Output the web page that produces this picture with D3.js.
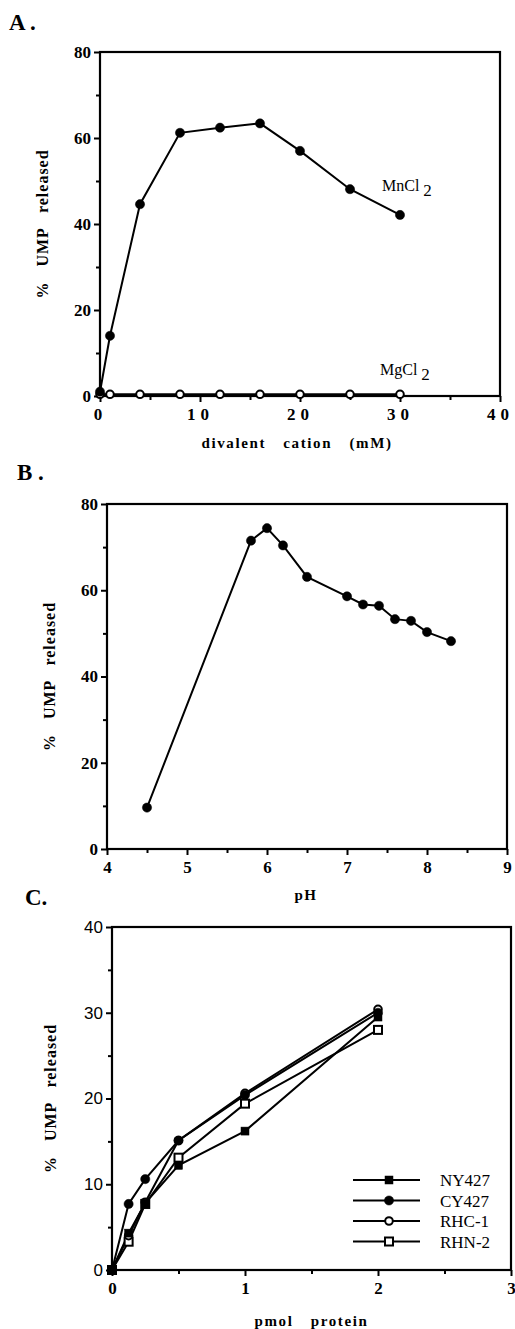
<!DOCTYPE html>
<html lang="en">
<head>
<meta charset="UTF-8">
<title>UMP release</title>
<script src="https://cdnjs.cloudflare.com/ajax/libs/d3/7.8.5/d3.min.js"></script>
<style>
  body { margin: 0; background: #fff; }
  svg { display: block; }
  text { fill: #000; }
</style>
</head>
<body>
<svg id="fig" width="515" height="1329"></svg>
<script>
// ---- panel A: divalent cation (mM)
const cationMn = [0, 1, 4, 8, 12, 16, 20, 25, 30];
const umpMn = [1.0, 14.0, 44.6, 61.2, 62.4, 63.4, 57.0, 48.1, 42.1];
const cationMg = [0, 1, 4, 8, 12, 16, 20, 25, 30];
const umpMg = [0.4, 0.4, 0.4, 0.4, 0.4, 0.4, 0.4, 0.4, 0.4];
const ticksA_x = [0, 10, 20, 30, 40];
const ticksA_y = [0, 20, 40, 60, 80];

// ---- panel B: pH
const pH = [4.5, 5.8, 6.0, 6.2, 6.5, 7.0, 7.2, 7.4, 7.6, 7.8, 8.0, 8.3];
const umpPH = [9.6, 71.5, 74.4, 70.4, 63.1, 58.6, 56.7, 56.4, 53.3, 52.9, 50.3, 48.2];
const ticksB_x = [4, 5, 6, 7, 8, 9];
const ticksB_y = [0, 20, 40, 60, 80];

// ---- panel C: pmol protein
const pmol = [0, 0.125, 0.25, 0.5, 1, 2];
const strains = ["NY427", "CY427", "RHC-1", "RHN-2"];
const umpNY427 = [0, 4.3, 7.8, 12.2, 16.2, 29.5];
const umpCY427 = [0, 7.7, 10.6, 15.1, 20.4, 30.0];
const umpRHC1 = [0, 4.0, 7.9, 15.1, 20.6, 30.4];
const umpRHN2 = [0, 3.3, 7.7, 13.1, 19.4, 28.0];
const ticksC_x = [0, 1, 2, 3];
const ticksC_y = [0, 10, 20, 30, 40];

const svg = d3.select("#fig");
const serif = "'Liberation Serif', 'Times New Roman', serif";

function panel(o) {
    const x = d3.scaleLinear().domain(o.xDomain).range([o.left, o.right]);
    const y = d3.scaleLinear().domain(o.yDomain).range([o.bottom, o.top]);
    const g = svg.append("g");

    // frame
    g.append("rect")
        .attr("x", o.left).attr("y", o.top)
        .attr("width", o.right - o.left).attr("height", o.bottom - o.top)
        .attr("fill", "none").attr("stroke", "#000").attr("stroke-width", 2.2);

    // minor ticks
    const xa = g.append("g").attr("transform", `translate(0,${o.bottom})`)
        .call(d3.axisBottom(x).tickValues(o.xMinor).tickSize(4).tickFormat(""));
    const ya = g.append("g").attr("transform", `translate(${o.left},0)`)
        .call(d3.axisLeft(y).tickValues(o.yMinor).tickSize(4).tickFormat(""));

    // major ticks
    const xb = g.append("g").attr("transform", `translate(0,${o.bottom})`)
        .call(d3.axisBottom(x).tickValues(o.xTicks).tickSize(6).tickPadding(6).tickFormat(d3.format("d")));
    const yb = g.append("g").attr("transform", `translate(${o.left},0)`)
        .call(d3.axisLeft(y).tickValues(o.yTicks).tickSize(6).tickPadding(3).tickFormat(d3.format("d")));

    [xa, ya, xb, yb].forEach(a => {
        a.select(".domain").remove();
        a.selectAll("line").attr("stroke-width", 2);
    });
    xb.selectAll("text")
        .attr("font-family", serif).attr("font-weight", "bold")
        .attr("font-size", 17).style("letter-spacing", o.xLetter || "0px");
    yb.selectAll("text")
        .attr("font-family", o.yFont || serif).attr("font-weight", o.yWeight || "bold")
        .attr("font-size", 17);

    // titles
    svg.append("text")
        .attr("x", o.labelX).attr("y", o.labelY)
        .attr("font-family", serif).attr("font-weight", "bold").attr("font-size", 23)
        .text(o.label);
    svg.append("text")
        .attr("x", (o.left + o.right) / 2 + (o.xTitleDx || 0)).attr("y", o.xTitleY)
        .attr("text-anchor", "middle")
        .attr("font-family", serif).attr("font-weight", "bold").attr("font-size", 15)
        .style("letter-spacing", "1.6px").style("word-spacing", "12px")
        .text(o.xTitle);
    svg.append("text")
        .attr("transform", `translate(${o.yTitleX},${(o.top + o.bottom) / 2}) rotate(-90)`)
        .attr("text-anchor", "middle")
        .attr("font-family", serif).attr("font-weight", "bold").attr("font-size", 16)
        .style("letter-spacing", "1px").style("word-spacing", "10px")
        .text("% UMP released");

    return { x, y, g };
}

function drawLine(g, x, y, xs, ys) {
    g.append("path")
        .datum(xs.map((d, i) => [d, ys[i]]))
        .attr("fill", "none").attr("stroke", "#000").attr("stroke-width", 2)
        .attr("d", d3.line().x(d => x(d[0])).y(d => y(d[1])));
}

function drawMarkers(g, x, y, xs, ys, kind) {
    const pts = xs.map((d, i) => [d, ys[i]]);
    const filled = kind === "filledCircle" || kind === "filledSquare";
    if (kind.endsWith("Circle")) {
        g.selectAll(null).data(pts).enter().append("circle")
            .attr("cx", d => x(d[0])).attr("cy", d => y(d[1]))
            .attr("r", filled ? 4.6 : 3.8)
            .attr("fill", filled ? "#000" : "#fff")
            .attr("stroke", "#000").attr("stroke-width", filled ? 0.5 : 2);
    } else {
        g.selectAll(null).data(pts).enter().append("rect")
            .attr("x", d => x(d[0]) - 4).attr("y", d => y(d[1]) - 4)
            .attr("width", 8).attr("height", 8)
            .attr("fill", filled ? "#000" : "#fff")
            .attr("stroke", "#000").attr("stroke-width", filled ? 0.5 : 2);
    }
}

// ---------- A
const A = panel({
    left: 100, right: 500, top: 52, bottom: 396,
    xDomain: [0, 40], yDomain: [0, 80],
    xTicks: ticksA_x, yTicks: ticksA_y,
    xMinor: [5, 15, 25, 35], yMinor: [10, 30, 50, 70],
    xLetter: "5px",
    label: "A .", labelX: 9, labelY: 30,
    xTitle: "divalent cation (mM)", xTitleY: 448, xTitleDx: -3,
    yTitleX: 48
});
drawLine(A.g, A.x, A.y, cationMg, umpMg);
drawMarkers(A.g, A.x, A.y, cationMg, umpMg, "openCircle");
drawLine(A.g, A.x, A.y, cationMn, umpMn);
drawMarkers(A.g, A.x, A.y, cationMn, umpMn, "filledCircle");

function seriesLabel(x0, y0, name) {
    const t = svg.append("text").attr("x", x0).attr("y", y0)
        .attr("font-family", serif).attr("font-size", 16);
    t.append("tspan").text(name);
    t.append("tspan").attr("dx", 4).attr("dy", 5).attr("font-size", 17).text("2");
}
seriesLabel(382, 191, "MnCl");
seriesLabel(380, 375, "MgCl");

// ---------- B
const B = panel({
    left: 107, right: 507, top: 504, bottom: 849,
    xDomain: [4, 9], yDomain: [0, 80],
    xTicks: ticksB_x, yTicks: ticksB_y,
    xMinor: [4.5, 5.5, 6.5, 7.5, 8.5], yMinor: [10, 30, 50, 70],
    label: "B .", labelX: 17, labelY: 480,
    xTitle: "pH", xTitleY: 900, xTitleDx: -1,
    yTitleX: 55
});
drawLine(B.g, B.x, B.y, pH, umpPH);
drawMarkers(B.g, B.x, B.y, pH, umpPH, "filledCircle");

// ---------- C
const C = panel({
    left: 112, right: 511, top: 927, bottom: 1270,
    xDomain: [0, 3], yDomain: [0, 40],
    xTicks: ticksC_x, yTicks: ticksC_y,
    xMinor: [0.5, 1.5, 2.5], yMinor: [5, 15, 25, 35],
    yFont: "'Liberation Sans', Arial, sans-serif", yWeight: "normal",
    label: "C.", labelX: 25, labelY: 905,
    xTitle: "pmol protein", xTitleY: 1326, xTitleDx: 0,
    yTitleX: 56
});
const seriesC = [umpNY427, umpCY427, umpRHC1, umpRHN2];
const kindsC = ["filledSquare", "filledCircle", "openCircle", "openSquare"];
seriesC.forEach(s => drawLine(C.g, C.x, C.y, pmol, s));
[3, 2, 0, 1].forEach(i => drawMarkers(C.g, C.x, C.y, pmol, seriesC[i], kindsC[i]));

// legend
const legend = svg.append("g").attr("transform", "translate(353,1180)");
strains.forEach((name, i) => {
    const row = legend.append("g").attr("transform", `translate(0,${i * 20.5})`);
    row.append("line").attr("x1", 0).attr("x2", 67).attr("y1", 0).attr("y2", 0)
        .attr("stroke", "#000").attr("stroke-width", 2);
    const lx = d3.scaleLinear().domain([0, 1]).range([36, 36]);
    const ly = d3.scaleLinear().domain([0, 1]).range([0, 0]);
    drawMarkers(row, lx, ly, [0], [0], kindsC[i]);
    row.append("text").attr("x", 87).attr("y", 6)
        .attr("font-family", serif).attr("font-size", 17).text(name);
});
</script>
</body>
</html>
